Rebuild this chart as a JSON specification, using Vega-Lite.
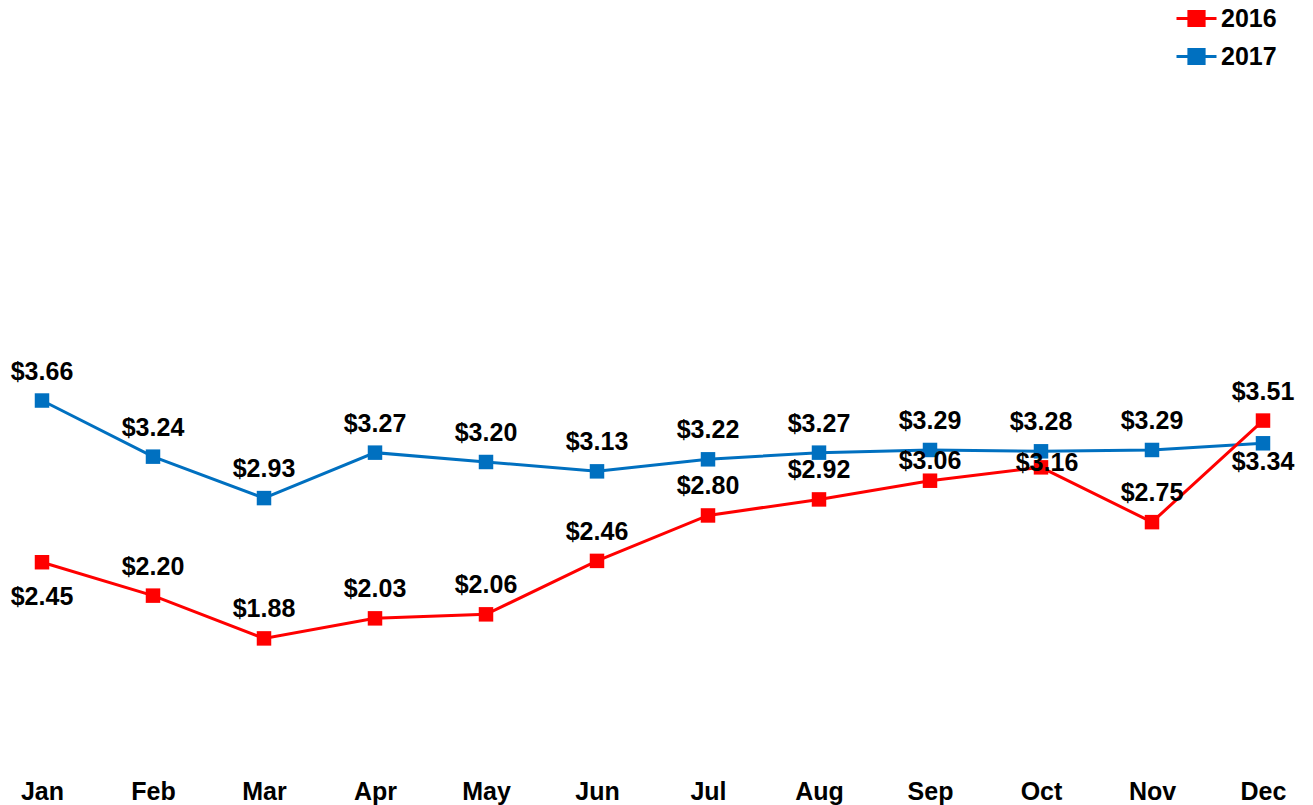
{
  "$schema": "https://vega.github.io/schema/vega-lite/v6.json",
  "autosize": {"type": "none"},
  "width": 1221,
  "height": 735,
  "padding": {"left": 42, "top": 21, "right": 50, "bottom": 49},
  "background": "white",
  "config": {
    "view": {"stroke": null},
    "font": "Liberation Sans"
  },
  "data": {
    "values": [
      {"month": "Jan", "year": "2017", "price": 3.66},
      {"month": "Feb", "year": "2017", "price": 3.24},
      {"month": "Mar", "year": "2017", "price": 2.93},
      {"month": "Apr", "year": "2017", "price": 3.27},
      {"month": "May", "year": "2017", "price": 3.20},
      {"month": "Jun", "year": "2017", "price": 3.13},
      {"month": "Jul", "year": "2017", "price": 3.22},
      {"month": "Aug", "year": "2017", "price": 3.27},
      {"month": "Sep", "year": "2017", "price": 3.29},
      {"month": "Oct", "year": "2017", "price": 3.28},
      {"month": "Nov", "year": "2017", "price": 3.29},
      {"month": "Dec", "year": "2017", "price": 3.34},
      {"month": "Jan", "year": "2016", "price": 2.45},
      {"month": "Feb", "year": "2016", "price": 2.20},
      {"month": "Mar", "year": "2016", "price": 1.88},
      {"month": "Apr", "year": "2016", "price": 2.03},
      {"month": "May", "year": "2016", "price": 2.06},
      {"month": "Jun", "year": "2016", "price": 2.46},
      {"month": "Jul", "year": "2016", "price": 2.80},
      {"month": "Aug", "year": "2016", "price": 2.92},
      {"month": "Sep", "year": "2016", "price": 3.06},
      {"month": "Oct", "year": "2016", "price": 3.16},
      {"month": "Nov", "year": "2016", "price": 2.75},
      {"month": "Dec", "year": "2016", "price": 3.51}
    ]
  },
  "encoding": {
    "x": {
      "field": "month",
      "type": "ordinal",
      "sort": ["Jan","Feb","Mar","Apr","May","Jun","Jul","Aug","Sep","Oct","Nov","Dec"],
      "scale": {"type": "point", "padding": 0},
      "axis": {
        "title": null,
        "domain": false,
        "ticks": false,
        "grid": false,
        "labelAngle": 0,
        "labelFont": "Liberation Sans",
        "labelFontWeight": "bold",
        "labelFontSize": 25,
        "labelColor": "#000000",
        "labelBaseline": "top",
        "labelPadding": 23,
        "labelOverlap": false
      }
    },
    "y": {
      "field": "price",
      "type": "quantitative",
      "scale": {"domain": [1, 6.5], "nice": false, "zero": false},
      "axis": null
    }
  },
  "layer": [
    {
      "mark": {"type": "line", "strokeWidth": 3},
      "encoding": {
        "color": {
          "field": "year",
          "type": "nominal",
          "scale": {"domain": ["2016", "2017"], "range": ["#FF0000", "#0070C0"]},
          "legend": {
            "title": null,
            "orient": "none",
            "legendX": 1133,
            "legendY": -24,
            "padding": 0,
            "rowPadding": 3,
            "symbolType": "M-1,0H1M-0.38,-0.35H0.38V0.35H-0.38Z",
            "symbolSize": 1600,
            "symbolStrokeWidth": 3,
            "labelOffset": 3,
            "labelFont": "Liberation Sans",
            "labelFontWeight": "bold",
            "labelFontSize": 25,
            "labelColor": "#000000",
            "encode": {
              "symbols": {
                "update": {
                  "fill": {"scale": "color", "field": "value"},
                  "stroke": {"scale": "color", "field": "value"},
                  "opacity": {"value": 1}
                }
              }
            }
          }
        }
      }
    },
    {
      "mark": {"type": "point", "shape": "square", "filled": true, "opacity": 1, "size": 210},
      "encoding": {
        "color": {"field": "year", "type": "nominal", "legend": null}
      }
    },
    {
      "transform": [{"filter": "datum.year == '2017' && datum.month != 'Dec'"}],
      "mark": {"type": "text", "font": "Liberation Sans", "fontWeight": "bold", "fontSize": 25, "baseline": "middle", "dy": -29, "color": "#000000"},
      "encoding": {"text": {"field": "price", "type": "quantitative", "format": "$.2f"}}
    },
    {
      "transform": [{"filter": "datum.year == '2017' && datum.month == 'Dec'"}],
      "mark": {"type": "text", "font": "Liberation Sans", "fontWeight": "bold", "fontSize": 25, "baseline": "middle", "dy": 19, "color": "#000000"},
      "encoding": {"text": {"field": "price", "type": "quantitative", "format": "$.2f"}}
    },
    {
      "transform": [{"filter": "datum.year == '2016' && indexof(['Jan','Sep','Oct'], datum.month) < 0"}],
      "mark": {"type": "text", "font": "Liberation Sans", "fontWeight": "bold", "fontSize": 25, "baseline": "middle", "dy": -29, "color": "#000000"},
      "encoding": {"text": {"field": "price", "type": "quantitative", "format": "$.2f"}}
    },
    {
      "transform": [{"filter": "datum.year == '2016' && datum.month == 'Jan'"}],
      "mark": {"type": "text", "font": "Liberation Sans", "fontWeight": "bold", "fontSize": 25, "baseline": "middle", "dy": 35, "color": "#000000"},
      "encoding": {"text": {"field": "price", "type": "quantitative", "format": "$.2f"}}
    },
    {
      "transform": [{"filter": "datum.year == '2016' && datum.month == 'Sep'"}],
      "mark": {"type": "text", "font": "Liberation Sans", "fontWeight": "bold", "fontSize": 25, "baseline": "middle", "dy": -20, "color": "#000000"},
      "encoding": {"text": {"field": "price", "type": "quantitative", "format": "$.2f"}}
    },
    {
      "transform": [{"filter": "datum.year == '2016' && datum.month == 'Oct'"}],
      "mark": {"type": "text", "font": "Liberation Sans", "fontWeight": "bold", "fontSize": 25, "baseline": "middle", "dy": -4, "dx": 6, "color": "#000000"},
      "encoding": {"text": {"field": "price", "type": "quantitative", "format": "$.2f"}}
    }
  ]
}
